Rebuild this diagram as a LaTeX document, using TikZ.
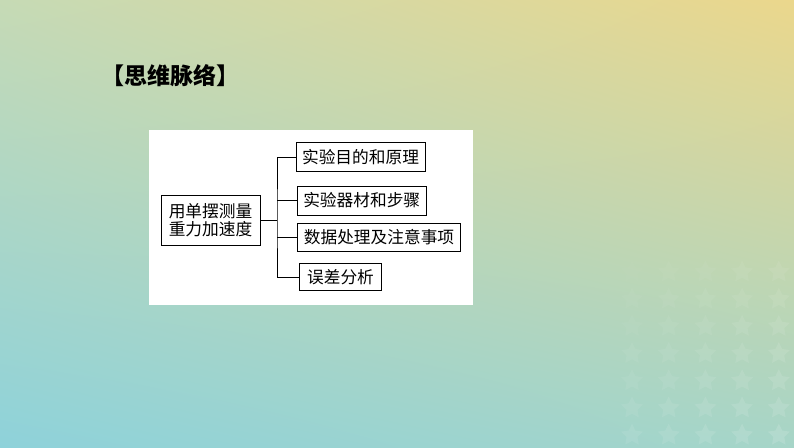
\documentclass[tikz,border=0pt]{standalone}
\usepackage{fontspec}
\usetikzlibrary{shapes.geometric,shadings}
\newfontfamily\cjk{Noto Sans CJK SC}
\definecolor{bgTL}{RGB}{198,218,181}
\definecolor{bgTR}{RGB}{235,215,140}
\definecolor{bgBL}{RGB}{142,210,218}
\definecolor{bgBR}{RGB}{166,213,200}
\tikzset{
  box/.style={draw=black, line width=1pt, fill=white, inner sep=0pt, align=center,
    font=\cjk\fontsize{16.7}{20}\selectfont},
  conn/.style={draw=black, line width=1pt},
  bgstar/.style={star, star points=5, star point ratio=2.0, minimum size=23pt, inner sep=0pt, fill=white, draw=none}
}
\begin{document}
\begin{tikzpicture}[x=1pt,y=-1pt]
\useasboundingbox (0,0) rectangle (794,447);
\shade[upper left=bgTL, upper right=bgTR, lower left=bgBL, lower right=bgBR] (0,0) rectangle (794,447);
% faint stars
\foreach \i in {0,...,4}{
  \foreach \j in {0,...,6}{
    \pgfmathsetmacro{\op}{0.02+0.012*\i+0.01*\j}
    \node[bgstar, opacity=\op] (s\i\j) at (632+36.7*\i, 272+27.2*\j) {};
  }
}
% title
\node[font=\cjk\bfseries\fontsize{23}{23}\selectfont, inner sep=0pt] (title) at (170,76) {【思维脉络】};
% white panel
\fill[white] (149,130) rectangle (473,305);
% nodes
\node[box, minimum width=99pt, minimum height=50pt, font=\cjk\fontsize{16.7}{18.5}\selectfont] (main) at (210.5,220) {用单摆测量\\重力加速度};
\node[box, minimum width=129pt, minimum height=29pt] (b1) at (360.5,157) {实验目的和原理};
\node[box, minimum width=128.7pt, minimum height=29pt] (b2) at (361.7,200.5) {实验器材和步骤};
\node[box, minimum width=163.4pt, minimum height=28.4pt] (b3) at (379,237.5) {数据处理及注意事项};
\node[box, minimum width=82.4pt, minimum height=27.4pt] (b4) at (340.5,277) {误差分析};
\coordinate (jx) at (277,220);
% connectors
\draw[conn] (main.east) -- (jx);
\draw[conn] (b1.west) -| (jx) |- (b4.west);
\draw[conn] (b2.west) -- (b2.west -| jx);
\draw[conn] (b3.west) -- (b3.west -| jx);
\end{tikzpicture}
\end{document}
